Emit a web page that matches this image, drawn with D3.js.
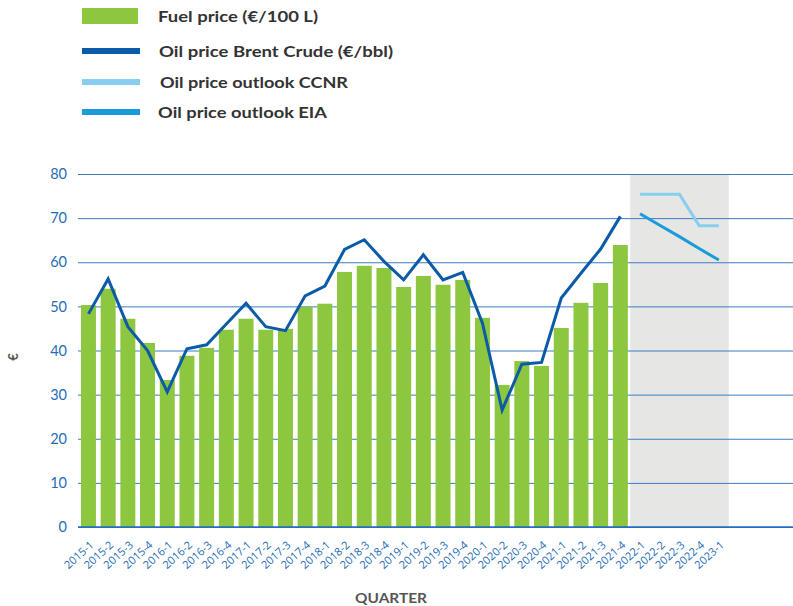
<!DOCTYPE html>
<html>
<head>
<meta charset="utf-8">
<script src="https://cdn.jsdelivr.net/npm/d3@7"></script>
<style>
  body { margin: 0; background: #fff; }
  svg { display: block; }
</style>
</head>
<body>
<div id="chart"></div>
<script>
// quarters on the x axis
var quarters = ["2015-1","2015-2","2015-3","2015-4","2016-1","2016-2","2016-3","2016-4",
  "2017-1","2017-2","2017-3","2017-4","2018-1","2018-2","2018-3","2018-4",
  "2019-1","2019-2","2019-3","2019-4","2020-1","2020-2","2020-3","2020-4",
  "2021-1","2021-2","2021-3","2021-4","2022-1","2022-2","2022-3","2022-4","2023-1"];

// fuel price (€/100 L), 2015-1 .. 2021-4
var fuelPrice = [50.3, 54.0, 47.2, 41.7, 33.3, 38.8, 40.6, 44.7,
  47.2, 44.7, 44.9, 49.9, 50.6, 57.8, 59.2, 58.7,
  54.4, 56.9, 54.9, 56.0, 47.4, 32.2, 37.6, 36.5,
  45.1, 50.8, 55.3, 63.9];

// oil price Brent crude (€/bbl), 2015-1 .. 2021-4
var brent = [48.3, 56.2, 45.4, 40.0, 30.6, 40.4, 41.3, 46.0,
  50.7, 45.4, 44.5, 52.4, 54.6, 62.9, 65.1, 60.2,
  56.0, 61.7, 56.0, 57.7, 46.2, 26.5, 36.9, 37.3,
  51.9, 57.5, 63.0, 70.4];

// outlooks, 2022-1 .. 2023-1
var outlookQuarters = ["2022-1","2022-2","2022-3","2022-4","2023-1"];
var ccnr = [75.4, 75.4, 75.4, 68.3, 68.3];
var eia = [71.0, 68.4, 65.8, 63.1, 60.5];

var yTicks = [0, 10, 20, 30, 40, 50, 60, 70, 80];

var W = 793, H = 606;
var green = "#8dc63f", brentColor = "#0b5ba8", ccnrColor = "#87cef1", eiaColor = "#1b9bd9";
var tickBlue = "#1f6db5";

var svg = d3.select("#chart").append("svg")
  .attr("width", W).attr("height", H);

var x = d3.scaleBand().domain(quarters).range([78.6, 728.7]);
var y = d3.scaleLinear().domain([0, 80]).range([527, 174]);
var barW = x.bandwidth() * 0.76;
var cx = function(q) { return x(q) + x.bandwidth() / 2; };

// forecast shading
svg.append("rect")
  .attr("x", x("2022-1"))
  .attr("y", y(80))
  .attr("width", x("2023-1") + x.bandwidth() - x("2022-1"))
  .attr("height", y(0) - y(80))
  .attr("fill", "#e6e6e5");

// gridlines + y tick labels
var yAxis = svg.append("g")
  .attr("transform", "translate(78,0)")
  .call(d3.axisLeft(y).tickValues(yTicks).tickSize(-(W - 78)).tickPadding(11));
yAxis.select(".domain").remove();
yAxis.selectAll(".tick line").attr("stroke", "#3a7cc3").attr("stroke-width", 1);
yAxis.selectAll(".tick text")
  .attr("fill", tickBlue)
  .attr("font-family", "Lato, 'Open Sans', sans-serif")
  .attr("font-size", "14.5px");

// fuel price bars
svg.append("g").selectAll("rect")
  .data(fuelPrice)
  .enter().append("rect")
  .attr("x", function(d, i) { return cx(quarters[i]) - barW / 2; })
  .attr("y", function(d) { return y(d); })
  .attr("width", barW)
  .attr("height", function(d) { return y(0) - y(d); })
  .attr("fill", green);

// baseline
svg.append("line")
  .attr("x1", 78).attr("x2", W)
  .attr("y1", y(0)).attr("y2", y(0))
  .attr("stroke", "#1f6bc0").attr("stroke-width", 1.5);

var line = d3.line()
  .x(function(d) { return cx(d[0]); })
  .y(function(d) { return y(d[1]); });

svg.append("path")
  .datum(brent.map(function(v, i) { return [quarters[i], v]; }))
  .attr("d", line)
  .attr("fill", "none")
  .attr("stroke", brentColor)
  .attr("stroke-width", 3)
  .attr("stroke-linejoin", "miter");

svg.append("path")
  .datum(ccnr.map(function(v, i) { return [outlookQuarters[i], v]; }))
  .attr("d", line)
  .attr("fill", "none")
  .attr("stroke", ccnrColor)
  .attr("stroke-width", 3);

svg.append("path")
  .datum(eia.map(function(v, i) { return [outlookQuarters[i], v]; }))
  .attr("d", line)
  .attr("fill", "none")
  .attr("stroke", eiaColor)
  .attr("stroke-width", 3);

// x tick labels
svg.append("g").selectAll("text")
  .data(quarters)
  .enter().append("text")
  .attr("transform", function(q) { return "translate(" + (cx(q) + 6) + ",546) rotate(-42)"; })
  .attr("text-anchor", "end")
  .attr("font-family", "'Open Sans', Lato, sans-serif")
  .attr("font-size", "11px")
  .attr("fill", tickBlue)
  .text(function(q) { return q; });

// axis titles
svg.append("text")
  .attr("x", 355).attr("y", 603)
  .attr("font-family", "Lato, sans-serif")
  .attr("font-weight", "bold")
  .attr("font-size", "14px")
  .attr("fill", "#555")
  .attr("textLength", 72)
  .attr("lengthAdjust", "spacingAndGlyphs")
  .text("QUARTER");

svg.append("text")
  .attr("transform", "translate(18,357) rotate(-90)")
  .attr("text-anchor", "middle")
  .attr("font-family", "Lato, sans-serif")
  .attr("font-weight", "bold")
  .attr("font-size", "13px")
  .attr("fill", "#555")
  .text("€");

// legend
var legendItems = [
  { label: "Fuel price (€/100 L)", color: green, type: "rect", y: 16, tx: 158, w: 160 },
  { label: "Oil price Brent Crude (€/bbl)", color: brentColor, type: "line", y: 51, tx: 159, w: 234 },
  { label: "Oil price outlook CCNR", color: ccnrColor, type: "line", y: 82, tx: 160, w: 188 },
  { label: "Oil price outlook EIA", color: eiaColor, type: "line", y: 112, tx: 158, w: 169 }
];
var legend = svg.append("g");
legendItems.forEach(function(it) {
  if (it.type === "rect") {
    legend.append("rect").attr("x", 82).attr("y", it.y - 8).attr("width", 56).attr("height", 16).attr("fill", it.color);
  } else {
    legend.append("rect").attr("x", 82).attr("y", it.y - 3).attr("width", 58).attr("height", 6).attr("fill", it.color);
  }
  legend.append("text")
    .attr("x", it.tx).attr("y", it.y + 5.5)
    .attr("font-family", "Lato, sans-serif")
    .attr("font-weight", "bold")
    .attr("font-size", "15.5px")
    .attr("fill", "#333")
    .attr("textLength", it.w)
    .attr("lengthAdjust", "spacingAndGlyphs")
    .text(it.label);
});
</script>
</body>
</html>
